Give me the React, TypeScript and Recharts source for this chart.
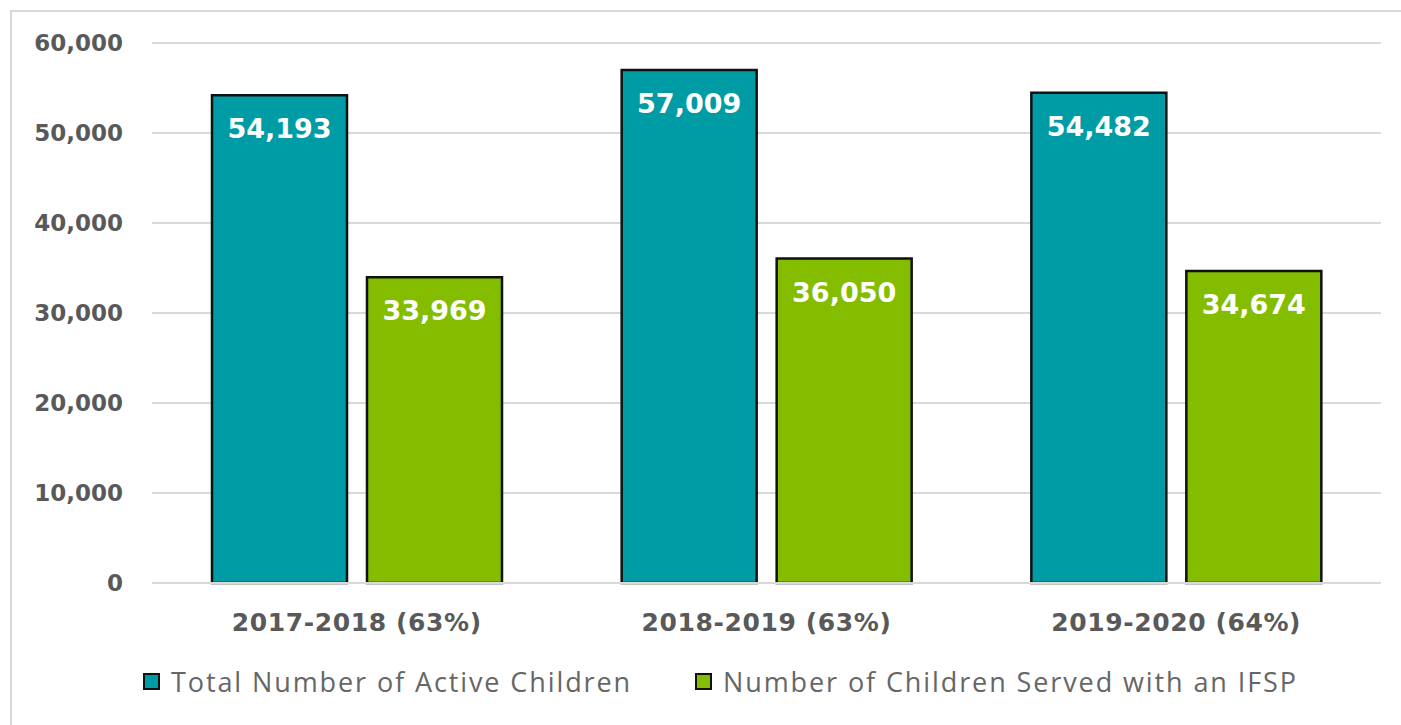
import React from 'react';
import { BarChart, Bar, XAxis, YAxis, CartesianGrid, Legend, LabelList } from 'recharts';

const categories = ['2017-2018 (63%)', '2018-2019 (63%)', '2019-2020 (64%)'];
const totalActive = [54193, 57009, 54482];
const servedIFSP = [33969, 36050, 34674];
const yTicks = [0, 10000, 20000, 30000, 40000, 50000, 60000];
const seriesNames = ['Total Number of Active Children', 'Number of Children Served with an IFSP'];

const data = categories.map((c, i) => ({ name: c, total: totalActive[i], ifsp: servedIFSP[i] }));

const fmt = (v: number) => v.toLocaleString('en-US');

const LegendContent = (props: any) => {
  const payload = [...(props.payload || [])].sort(
    (a: any, b: any) => seriesNames.indexOf(a.value) - seriesNames.indexOf(b.value)
  );
  return (
    <div style={{ display: 'flex', justifyContent: 'flex-start', paddingLeft: 143, alignItems: 'center' }}>
      {payload.map((p: any, i: number) => (
        <div key={i} style={{ display: 'flex', alignItems: 'center', marginRight: i === 0 ? 63 : 0 }}>
          <span style={{ display: 'inline-block', width: 13, height: 13, background: p.color, border: '2px solid #111', marginRight: 11 }} />
          <span style={{ fontFamily: '"Open Sans", sans-serif', fontSize: 27, letterSpacing: 1.9, color: '#666666', whiteSpace: 'nowrap' }}>{p.value}</span>
        </div>
      ))}
    </div>
  );
};

export default function App() {
  return (
    <div style={{ position: 'absolute', left: 0, top: 0, width: 1401, height: 725, background: '#fff' }}>
      <div style={{ position: 'absolute', left: 10, top: 10, width: 1391, height: 715, borderLeft: '2px solid #d9d9d9', borderTop: '2px solid #d9d9d9', boxSizing: 'border-box' }} />
      <div style={{ position: 'absolute', left: 0, top: 0 }}>
        <BarChart
          width={1401}
          height={725}
          data={data}
          margin={{ top: 43, right: 20, bottom: 0, left: 0 }}
          barCategoryGap={60}
          barGap={20}
        >
          <CartesianGrid vertical={false} stroke="#d9d9d9" strokeWidth={2} />
          <XAxis
            dataKey="name"
            height={142}
            tickLine={false}
            tickSize={0}
            tickMargin={30}
            axisLine={{ stroke: '#d9d9d9', strokeWidth: 2 }}
            tick={{ fill: '#595959', fontSize: 25, fontWeight: 'bold', letterSpacing: 0.6, fontFamily: '"DejaVu Sans", sans-serif' }}
          />
          <YAxis
            width={152}
            domain={[0, 60000]}
            ticks={yTicks}
            axisLine={false}
            tickLine={false}
            tickSize={0}
            tickMargin={29}
            tickFormatter={fmt}
            tick={{ fill: '#595959', fontSize: 23, fontWeight: 'bold', fontFamily: '"DejaVu Sans", sans-serif' }}
          />
          <Legend
            layout="horizontal"
            verticalAlign="middle"
            align="center"
            wrapperStyle={{ top: 663, left: 0, width: 1401 }}
            content={<LegendContent />}
          />
          <Bar dataKey="total" name={seriesNames[0]} fill="#009ca6" stroke="#111" strokeWidth={2.5} isAnimationActive={false}>
            <LabelList dataKey="total" position="insideTop" offset={24} formatter={fmt} fill="#fff" fontSize={27} fontWeight="bold" fontFamily='"DejaVu Sans", sans-serif' />
          </Bar>
          <Bar dataKey="ifsp" name={seriesNames[1]} fill="#84bd00" stroke="#111" strokeWidth={2.5} isAnimationActive={false}>
            <LabelList dataKey="ifsp" position="insideTop" offset={24} formatter={fmt} fill="#fff" fontSize={27} fontWeight="bold" fontFamily='"DejaVu Sans", sans-serif' />
          </Bar>
        </BarChart>
      </div>
    </div>
  );
}
